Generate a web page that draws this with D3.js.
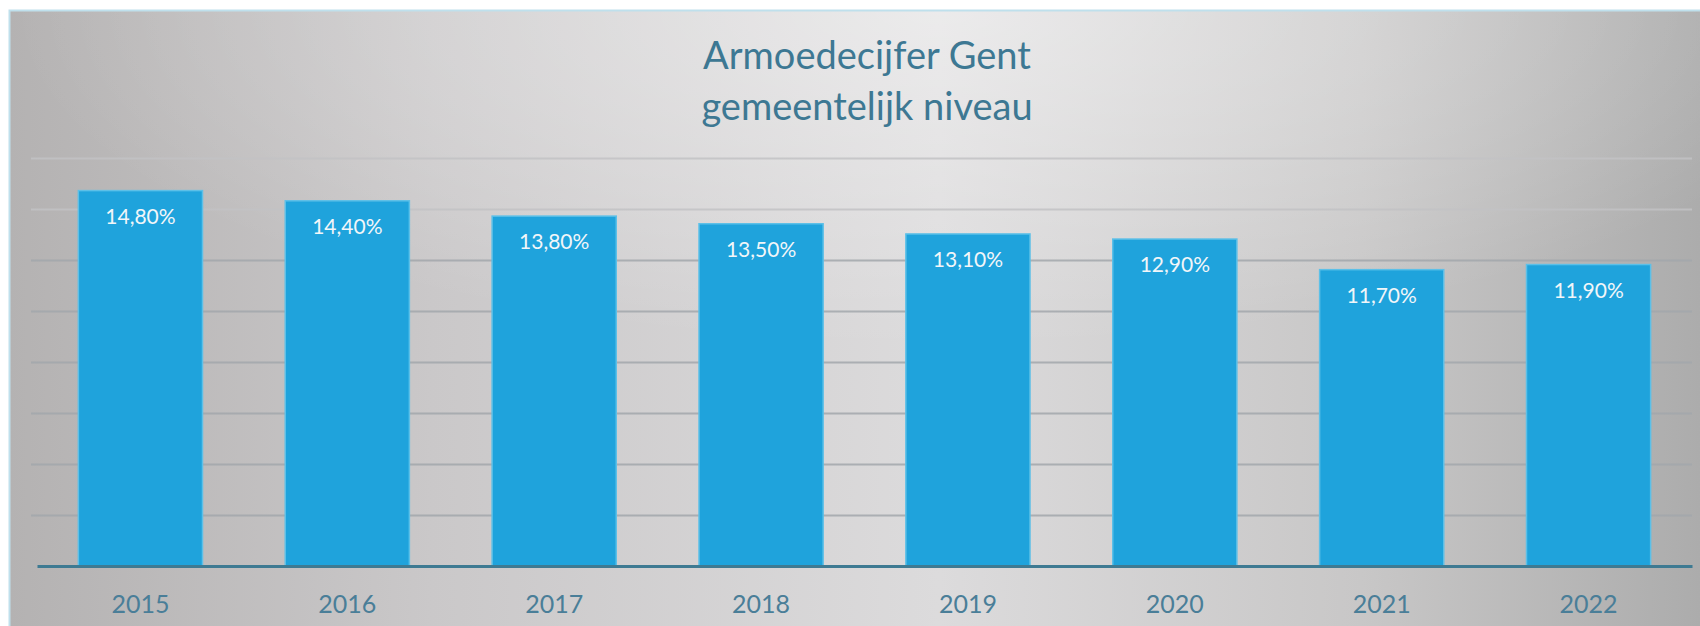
<!DOCTYPE html>
<html>
<head>
<meta charset="utf-8">
<script src="https://cdn.jsdelivr.net/npm/d3@7"></script>
<style>
  body { margin: 0; background: #fff; }
  text { font-family: Lato, "Open Sans", sans-serif; }
</style>
</head>
<body>
<div id="chart"></div>
<script>
// data
const years = ["2015", "2016", "2017", "2018", "2019", "2020", "2021", "2022"]
const rates = [14.8, 14.4, 13.8, 13.5, 13.1, 12.9, 11.7, 11.9]
const gridTicks = [0, 2, 4, 6, 8, 10, 12, 14, 16]
const titleLines = ["Armoedecijfer Gent", "gemeentelijk niveau"]

const width = 1700
const height = 626
const margin = { top: 158, right: 8, bottom: 60, left: 37 }

const svg = d3.select("div#chart")
    .append("svg")
    .attr("width", width)
    .attr("height", height)

// achtergrond: horizontaal verloop + lichte glans bovenaan
const defs = svg.append("defs")
const gradH = defs.append("linearGradient")
    .attr("id", "bgH")
    .attr("x1", "0%").attr("x2", "100%").attr("y1", "0%").attr("y2", "0%")
gradH.append("stop").attr("offset", "0%").attr("stop-color", "#b4b2b2")
gradH.append("stop").attr("offset", "25%").attr("stop-color", "#cac8c9")
gradH.append("stop").attr("offset", "55%").attr("stop-color", "#dcdbdc")
gradH.append("stop").attr("offset", "80%").attr("stop-color", "#c8c7c7")
gradH.append("stop").attr("offset", "100%").attr("stop-color", "#acacac")
const gradV = defs.append("radialGradient")
    .attr("id", "bgV")
    .attr("cx", "55%").attr("cy", "0%")
    .attr("r", "55%")
gradV.append("stop").attr("offset", "0%").attr("stop-color", "#ffffff").attr("stop-opacity", 0.45)
gradV.append("stop").attr("offset", "100%").attr("stop-color", "#ffffff").attr("stop-opacity", 0)

svg.append("rect")
    .attr("x", 9).attr("y", 10)
    .attr("width", width - 9).attr("height", height - 10)
    .attr("fill", "url(#bgH)")
svg.append("rect")
    .attr("x", 9).attr("y", 10)
    .attr("width", width - 9).attr("height", height - 10)
    .attr("fill", "url(#bgV)")
svg.append("path")
    .attr("d", `M9.5,${height} V10.5 H${width}`)
    .attr("fill", "none")
    .attr("stroke", "#bfe0ec")
    .attr("stroke-width", 2)

// schalen
const x = d3.scaleBand()
    .domain(years)
    .range([margin.left, width - margin.right])
    .paddingInner(0.4)
    .paddingOuter(0.2)
const y = d3.scaleLinear()
    .domain([0, 16])
    .range([566, margin.top])

// rasterlijnen
const gridGroup = svg.append("g")
    .attr("class", "grid")
    .attr("transform", `translate(${margin.left - 6},0)`)
    .call(d3.axisLeft(y).tickValues(gridTicks.slice(1)).tickSize(-(width - margin.right - margin.left + 6)).tickFormat(""))
gridGroup.select(".domain").remove()
gridGroup.selectAll("line")
    .attr("stroke", (d, i) => i > 5 ? "#c2c2c4" : "#a2a7ab")
    .attr("stroke-width", 2)
    .attr("stroke-opacity", 0.85)

// balken
svg.append("g")
    .selectAll("rect")
    .data(rates)
    .enter()
    .append("rect")
    .attr("x", (d, i) => x(years[i]))
    .attr("y", d => y(d) + 2)
    .attr("width", x.bandwidth())
    .attr("height", d => y(0) - y(d) - 2)
    .attr("fill", "#1fa3dc")
    .attr("stroke", "#5cc0e8")
    .attr("stroke-width", 1.5)

// labels
const fmt = d => d3.format(".2f")(d).replace(".", ",") + "%"
svg.append("g")
    .selectAll("text")
    .data(rates)
    .enter()
    .append("text")
    .attr("x", (d, i) => x(years[i]) + x.bandwidth() / 2)
    .attr("y", d => y(d) + 35)
    .attr("text-anchor", "middle")
    .attr("fill", "#f2f6f9")
    .style("font-size", "21px")
    .text(fmt)

// x-as
const xAxisGroup = svg.append("g")
    .attr("transform", `translate(0,${y(0)})`)
    .call(d3.axisBottom(x).tickSize(0).tickSizeOuter(0).tickPadding(29))
xAxisGroup.select(".domain")
    .attr("stroke", "#3e7a92")
    .attr("stroke-width", 3)
xAxisGroup.selectAll("text")
    .attr("fill", "#4a7e98")
    .style("font-size", "25px")
    .style("font-family", "Lato, 'Open Sans', sans-serif")

// titel
svg.append("g")
    .selectAll("text")
    .data(titleLines)
    .enter()
    .append("text")
    .attr("x", 867)
    .attr("y", (d, i) => 69 + i * 51)
    .attr("text-anchor", "middle")
    .attr("fill", "#3d7893")
    .style("font-size", "38px")
    .text(d => d)
</script>
</body>
</html>
